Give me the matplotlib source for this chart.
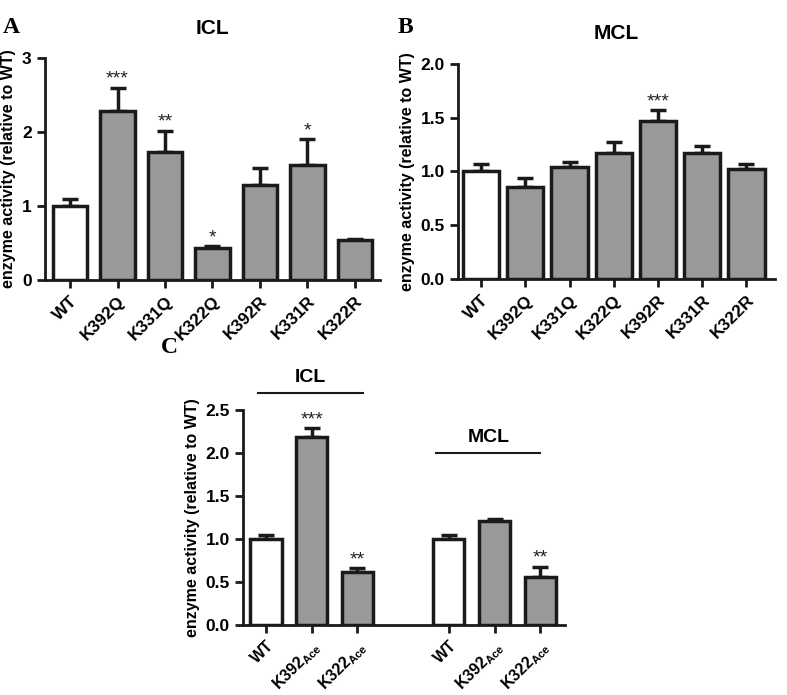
import numpy as np
import matplotlib
matplotlib.use('Agg')
import matplotlib.pyplot as plt

plt.rcParams['font.family'] = ['Liberation Sans', 'DejaVu Sans']
plt.rcParams['font.weight'] = 'bold'
plt.rcParams['mathtext.fontset'] = 'custom'
plt.rcParams['mathtext.rm'] = 'Liberation Sans:bold'
plt.rcParams['mathtext.bf'] = 'Liberation Sans:bold'

# Panel A - ICL
a_labels = ['WT', 'K392Q', 'K331Q', 'K322Q', 'K392R', 'K331R', 'K322R']
a_values = [1.0, 2.28, 1.73, 0.43, 1.29, 1.55, 0.54]
a_errors = [0.10, 0.32, 0.29, 0.03, 0.22, 0.35, 0.02]
a_stars = ['', '***', '**', '*', '', '*', '']

# Panel B - MCL
b_labels = ['WT', 'K392Q', 'K331Q', 'K322Q', 'K392R', 'K331R', 'K322R']
b_values = [1.0, 0.86, 1.04, 1.17, 1.47, 1.17, 1.02]
b_errors = [0.07, 0.08, 0.05, 0.10, 0.10, 0.07, 0.05]
b_stars = ['', '', '', '', '***', '', '']

# Panel C - acetylated
c_labels = ['WT', r'$\mathrm{K392}_{\mathrm{Ace}}$', r'$\mathrm{K322}_{\mathrm{Ace}}$',
            'WT', r'$\mathrm{K392}_{\mathrm{Ace}}$', r'$\mathrm{K322}_{\mathrm{Ace}}$']
c_values = [1.0, 2.19, 0.62, 1.0, 1.21, 0.56]
c_errors = [0.05, 0.10, 0.04, 0.05, 0.02, 0.12]
c_stars = ['', '***', '**', '', '', '**']
c_groups = ['ICL', 'MCL']

GREY = '#999999'
EDGE = '#1a1a1a'


def draw_bars(ax, pos, values, errors, stars, width, star_size=14):
    colors = ['white' if i == 0 else GREY for i in range(len(values))]
    if len(values) == 6:
        colors = ['white', GREY, GREY, 'white', GREY, GREY]
    ax.errorbar(pos, values, yerr=[np.zeros(len(values)), errors], fmt='none',
                ecolor=EDGE, elinewidth=2.5, capsize=6, capthick=2.5, zorder=1)
    ax.bar(pos, values, width=width, color=colors, edgecolor=EDGE, linewidth=2.5, zorder=2)
    for p, v, e, s in zip(pos, values, errors, stars):
        if s:
            ax.text(p, v + e, s, ha='center', va='bottom', fontsize=star_size,
                    fontweight='normal', color='#222222')


def style_axes(ax, labelsize=12.5):
    for side in ['top', 'right']:
        ax.spines[side].set_visible(False)
    for side in ['left', 'bottom']:
        ax.spines[side].set_linewidth(2)
        ax.spines[side].set_color(EDGE)
    ax.tick_params(axis='both', width=2, length=6, color=EDGE, labelsize=labelsize)
    ax.set_ylabel('enzyme activity (relative to WT)', fontsize=11.5, fontweight='bold')


fig = plt.figure(figsize=(7.87, 6.95), dpi=100)

# A
axA = fig.add_axes([0.057, 0.597, 0.426, 0.3195])
posA = np.arange(len(a_values))
draw_bars(axA, posA, a_values, a_errors, a_stars, 0.72)
axA.set_xlim(-0.53, 6.53)
axA.set_ylim(0, 3)
axA.set_yticks([0, 1, 2, 3])
axA.set_xticks(posA)
axA.set_xticklabels(a_labels, rotation=45, ha='right', rotation_mode='anchor')
style_axes(axA)
axA.set_title('ICL', fontsize=15, fontweight='bold', pad=17)
fig.text(0.003, 0.975, 'A', family='Liberation Serif', fontsize=17, fontweight='bold', va='top')

# B
axB = fig.add_axes([0.582, 0.5986, 0.403, 0.3094])
posB = np.arange(len(b_values))
draw_bars(axB, posB, b_values, b_errors, b_stars, 0.82)
axB.set_xlim(-0.52, 6.65)
axB.set_ylim(0, 2.0)
axB.set_yticks([0, 0.5, 1.0, 1.5, 2.0])
axB.set_yticklabels(['0.0', '0.5', '1.0', '1.5', '2.0'])
axB.set_xticks(posB)
axB.set_xticklabels(b_labels, rotation=45, ha='right', rotation_mode='anchor')
style_axes(axB)
axB.set_title('MCL', fontsize=15, fontweight='bold', pad=18)
fig.text(0.505, 0.975, 'B', family='Liberation Serif', fontsize=17, fontweight='bold', va='top')

# C
axC = fig.add_axes([0.309, 0.1007, 0.409, 0.3093])
posC = np.array([0, 1, 2, 4, 5, 6])
draw_bars(axC, posC, c_values, c_errors, c_stars, 0.68)
axC.set_xlim(-0.5, 6.54)
axC.set_ylim(0, 2.5)
axC.set_yticks([0, 0.5, 1.0, 1.5, 2.0, 2.5])
axC.set_yticklabels(['0.0', '0.5', '1.0', '1.5', '2.0', '2.5'])
axC.set_xticks(posC)
axC.set_xticklabels(c_labels, rotation=45, ha='right', rotation_mode='anchor')
style_axes(axC, labelsize=11.5)
axC.tick_params(axis='y', labelsize=12.5)
# group brackets
for x0, x1, y, name in [(-0.18, 2.13, 2.7, c_groups[0]), (3.72, 6.0, 2.0, c_groups[1])]:
    axC.plot([x0, x1], [y, y], color=EDGE, lw=1.5, clip_on=False)
    axC.text((x0 + x1) / 2, y + 0.08, name, ha='center', va='bottom', fontsize=14,
             fontweight='bold')
fig.text(0.205, 0.515, 'C', family='Liberation Serif', fontsize=17, fontweight='bold', va='top')

fig.savefig('out.png', dpi=100)
